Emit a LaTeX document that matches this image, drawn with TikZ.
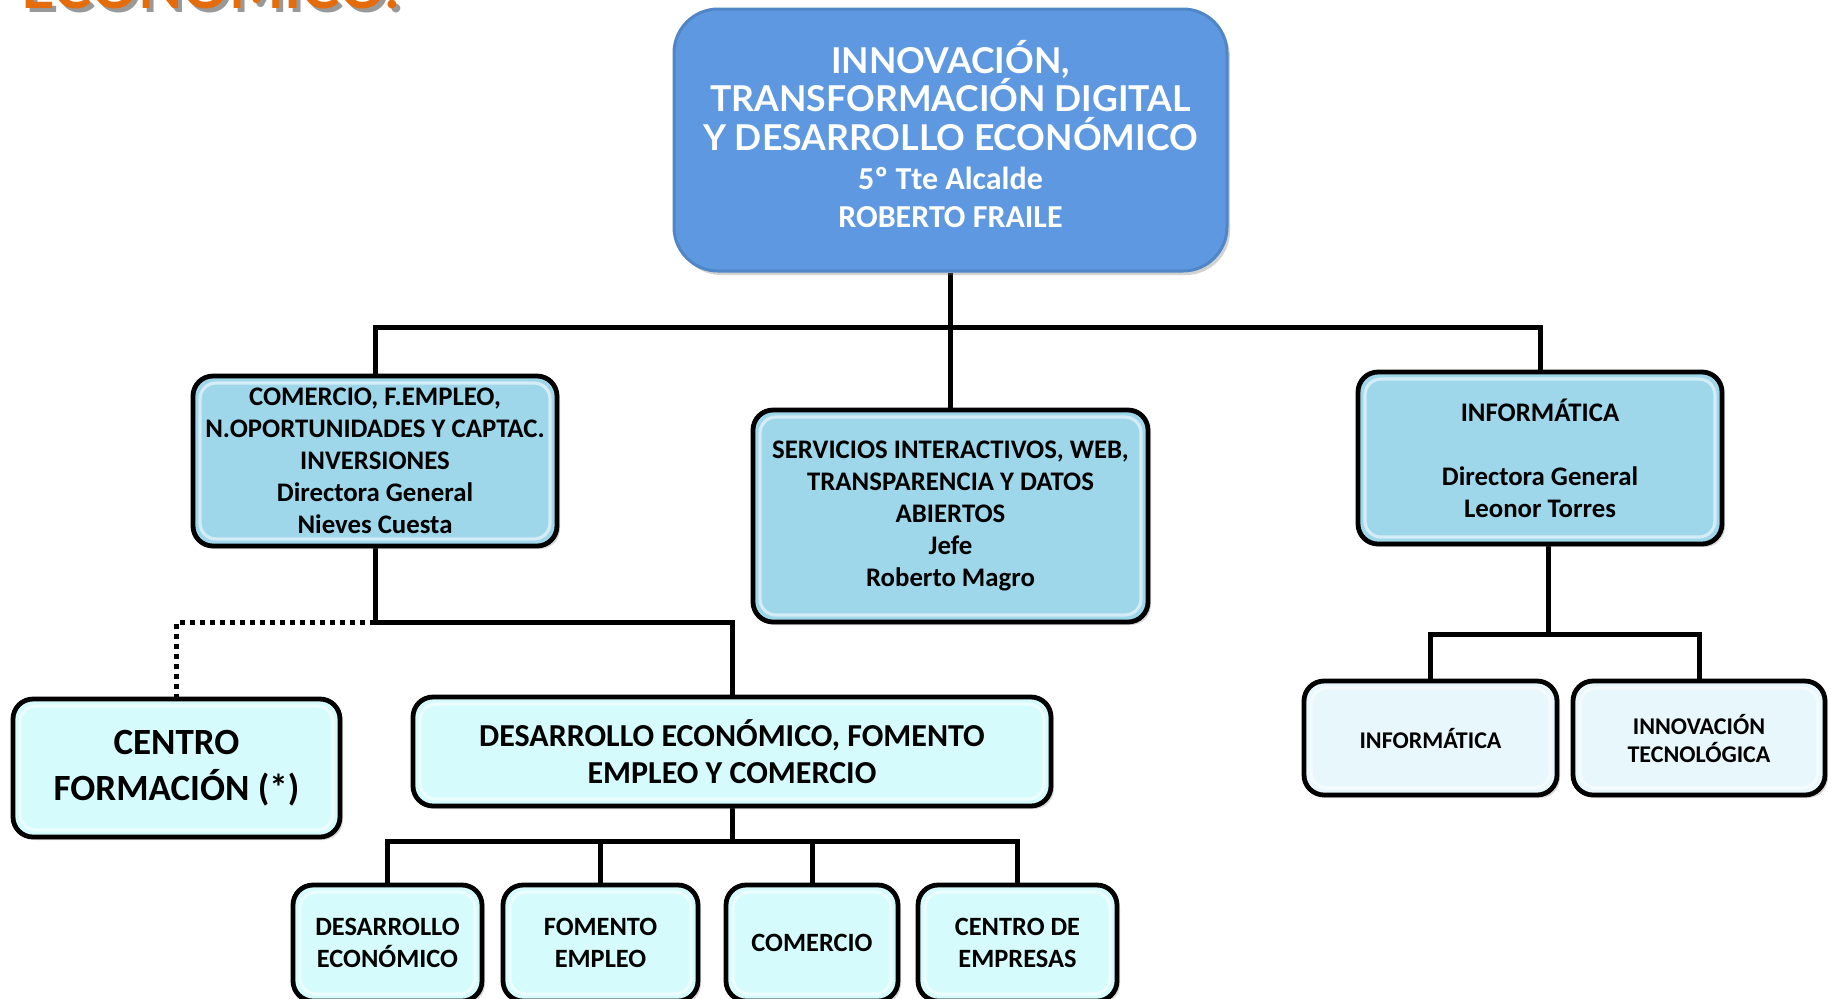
\documentclass[tikz,border=0pt]{standalone}
\usepackage{fontspec}
\setmainfont{Carlito}
\newfontfamily\latofont{Lato}
\usetikzlibrary{shadows,backgrounds}
\definecolor{topblue}{HTML}{5E98E0}
\definecolor{topedge}{HTML}{4F86C6}
\definecolor{lvltwo}{HTML}{9ED7EA}
\definecolor{lvlthree}{HTML}{D6FBFD}
\definecolor{subfill}{HTML}{E8F7FC}
\definecolor{titleorange}{HTML}{E46C0A}
\newcommand\calline{\rmfamily\fontsize{16}{18.5}\selectfont\bfseries}
\tikzset{
  x=0.5pt, y=-0.5pt,
  bevel/.style={path picture={\draw[white,opacity=0.55,line width=1.6pt,rounded corners=8pt]
     ([shift={(3.5pt,-3.5pt)}]path picture bounding box.north west) rectangle
     ([shift={(-3.5pt,3.5pt)}]path picture bounding box.south east);}},
  unitbox/.style={draw=black, line width=2.4pt, rounded corners=10pt, align=center,
     inner sep=2pt, font=\bfseries, bevel,
     drop shadow={opacity=0.3, shadow xshift=1.5pt, shadow yshift=-1.5pt}},
  lvltwobox/.style={unitbox, fill=lvltwo, font={\fontsize{13.4}{16}\selectfont\bfseries}},
  lvlthreebox/.style={unitbox, fill=lvlthree},
  subbox/.style={unitbox, fill=subfill, font={\fontsize{12}{14}\selectfont\bfseries}},
  conn/.style={line width=2.5pt, black},
  dotconn/.style={line width=2.5pt, black, dash pattern=on 2.5pt off 2.5pt},
}
\begin{document}
\begin{tikzpicture}
\useasboundingbox (0,0) rectangle (1831,998);
\clip (0,0) rectangle (1831,998);

% cut-off title
\node[anchor=base west, text=black!40, inner sep=0pt, font={\latofont\fontsize{29}{30}\selectfont\bfseries}] (titleshadow) at (25,12) {ECONÓMICO.};
\node[anchor=base west, text=titleorange, inner sep=0pt, font={\latofont\fontsize{29}{30}\selectfont\bfseries}] (title) at (21,8) {ECONÓMICO.};

% top box
\node[draw=topedge, line width=1.5pt, fill=topblue, rounded corners=22pt,
      minimum width=276.5pt, minimum height=131pt,
      drop shadow={opacity=0.35, shadow xshift=1.5pt, shadow yshift=-2pt}] (top) at (950.5,140) {};
\node[text=white, align=center, inner sep=0pt,
      font={\latofont\fontsize{17.8}{19.3}\selectfont\bfseries}] (toptext) at (950.5,134)
  {INNOVACIÓN,\\TRANSFORMACIÓN DIGITAL\\Y DESARROLLO ECONÓMICO\\\calline 5º Tte Alcalde\\\calline ROBERTO FRAILE};

% level two
\node[lvltwobox, minimum width=182pt, minimum height=85pt] (left) at (375,461)
  {COMERCIO, F.EMPLEO,\\N.OPORTUNIDADES Y CAPTAC.\\INVERSIONES\\Directora General\\Nieves Cuesta};
\node[lvltwobox, minimum width=197.5pt, minimum height=106pt] (mid) at (950.5,516)
  {SERVICIOS INTERACTIVOS, WEB,\\TRANSPARENCIA Y DATOS\\ABIERTOS\\Jefe\\Roberto Magro};
\node[lvltwobox, minimum width=182pt, minimum height=86pt] (right) at (1540,458)
  {INFORMÁTICA\\[16pt]Directora General\\Leonor Torres};

% level three
\node[lvlthreebox, minimum width=163.5pt, minimum height=69pt, font={\fontsize{18.5}{22.8}\selectfont\bfseries}] (centro) at (176.5,768)
  {CENTRO\\FORMACIÓN (*)};
\node[lvlthreebox, minimum width=319pt, minimum height=54.5pt, font={\fontsize{16}{18.7}\selectfont\bfseries}] (des) at (732,751.5)
  {DESARROLLO ECONÓMICO, FOMENTO\\EMPLEO Y COMERCIO};

% bottom boxes
\begin{scope}[every node/.append style={lvlthreebox, minimum height=58pt, font={\fontsize{13.2}{15.8}\selectfont\bfseries}}]
\node[minimum width=94.5pt] (b1) at (387.5,943) {DESARROLLO\\ECONÓMICO};
\node[minimum width=97.5pt] (b2) at (600.5,943) {FOMENTO\\EMPLEO};
\node[minimum width=86pt] (b3) at (812,943) {COMERCIO};
\node[minimum width=99.5pt] (b4) at (1017.5,943) {CENTRO DE\\EMPRESAS};
\end{scope}

% informatica sub boxes
\node[subbox, minimum width=126.5pt, minimum height=57pt] (s1) at (1430.5,738) {INFORMÁTICA};
\node[subbox, minimum width=126pt, minimum height=57pt] (s2) at (1699,738) {INNOVACIÓN\\TECNOLÓGICA};

% connectors
\coordinate (busA) at (950.5,327);
\coordinate (jL) at (375,622);
\coordinate (jD) at (732,841);
\coordinate (jR) at (1548,634);

\begin{scope}[on background layer]
\fill[white] (0,0) rectangle (1831,998);
\draw[conn] (top.south) -- (mid.north);
\draw[conn] (left.north) |- (busA) -| (right.north);
\draw[conn] (left.south) -- (jL) -| (des.north);
\draw[dotconn] (jL) -| (centro.north);
\draw[conn] (des.south) -- (jD);
\draw[conn] (b1.north) |- (jD) -| (b4.north);
\draw[conn] (b2.north) -- (b2.north |- jD);
\draw[conn] (b3.north) -- (b3.north |- jD);
\draw[conn] (jR |- right.south) -- (jR);
\draw[conn] (s1.north) |- (jR) -| (s2.north);
\end{scope}
\end{tikzpicture}
\end{document}
